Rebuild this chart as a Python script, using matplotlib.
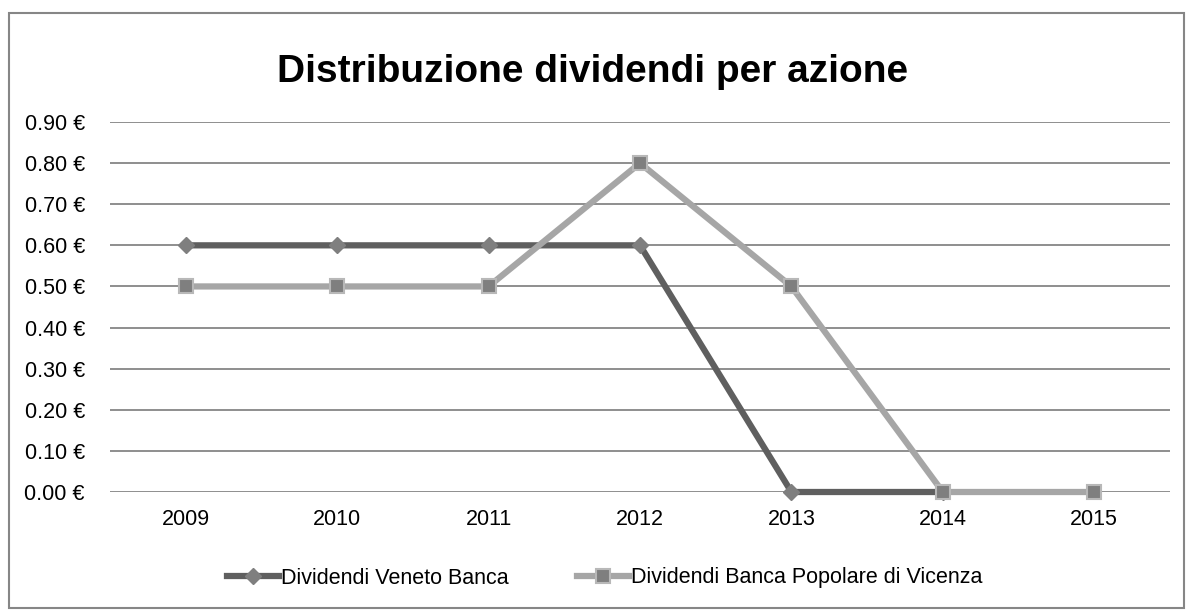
import matplotlib.pyplot as plt
import numpy as np
from matplotlib.patches import Rectangle

plt.rcParams['font.family'] = ['Liberation Sans Narrow', 'Liberation Sans', 'DejaVu Sans']

anni = ['2009', '2010', '2011', '2012', '2013', '2014', '2015']
veneto = [0.6, 0.6, 0.6, 0.6, 0.0, 0.0, np.nan]
vicenza = [0.5, 0.5, 0.5, 0.8, 0.5, 0.0, 0.0]
yTicks = [0.0, 0.1, 0.2, 0.3, 0.4, 0.5, 0.6, 0.7, 0.8, 0.9]

fig = plt.figure(figsize=(11.86, 6.10), dpi=100)
ax = fig.add_axes([110 / 1186, 1 - 492 / 610, 1060 / 1186, 370 / 610])

x = np.arange(len(anni))
ax.plot(x, veneto, color='#5f5f5f', lw=4.5, marker='D', ms=8,
        mfc='#7f7f7f', mec='#7f7f7f', label='Dividendi Veneto Banca',
        zorder=3, clip_on=False)
ax.plot(x, vicenza, color='#a6a6a6', lw=4.5, marker='s', ms=10,
        mfc='#7f7f7f', mec='#b8b8b8', mew=1.5,
        label='Dividendi Banca Popolare di Vicenza', zorder=4, clip_on=False)

ax.set_xlim(-0.5, len(anni) - 0.5)
ax.set_ylim(0, 0.9)
ax.set_yticks(yTicks)
ax.set_yticklabels(['%.2f €' % v for v in yTicks], fontsize=15.5)
ax.set_xticks(x)
ax.set_xticklabels(anni, fontsize=15.5)
ax.tick_params(length=0)
ax.tick_params(axis='y', pad=18)
ax.tick_params(axis='x', pad=12)
ax.grid(axis='y', color='#868686', lw=1.3)
ax.set_axisbelow(True)
for s in ax.spines.values():
    s.set_visible(False)

fig.text(0.5, 1 - 72 / 610, 'Distribuzione dividendi per azione',
         ha='center', va='center', fontsize=28, fontweight='bold')

fig.legend(loc='center', bbox_to_anchor=(0.51, 1 - 578 / 610), ncol=2,
           frameon=False, fontsize=15.5, handlelength=2.4, handletextpad=0.1,
           columnspacing=3.2)

# bordo esterno del grafico
fig.patches.append(Rectangle((9 / 1186, 2 / 610), 1175 / 1186, 595 / 610,
                             transform=fig.transFigure, fill=False,
                             edgecolor='#868686', lw=1.5))

fig.savefig('out.png', dpi=100)
